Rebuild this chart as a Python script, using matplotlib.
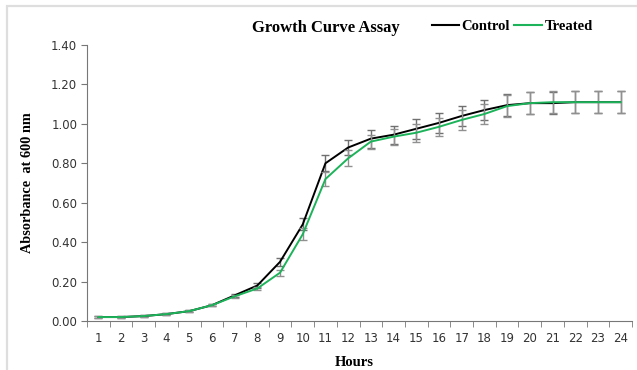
import numpy as np
import matplotlib
matplotlib.use("Agg")
import matplotlib.pyplot as plt
from matplotlib.patches import Rectangle
from matplotlib.lines import Line2D

# Data
hours = list(range(1, 25))
control = [0.02, 0.02, 0.025, 0.035, 0.05, 0.08, 0.13, 0.18, 0.30, 0.49, 0.80, 0.88,
           0.925, 0.945, 0.975, 1.005, 1.04, 1.07, 1.095, 1.105, 1.105, 1.11, 1.11, 1.11]
treated = [0.02, 0.02, 0.025, 0.035, 0.05, 0.08, 0.125, 0.165, 0.245, 0.44, 0.72, 0.825,
           0.91, 0.935, 0.955, 0.985, 1.02, 1.05, 1.09, 1.105, 1.11, 1.11, 1.11, 1.11]
control_err = [0.003, 0.003, 0.004, 0.004, 0.005, 0.006, 0.008, 0.012, 0.02, 0.03, 0.04, 0.04,
               0.045, 0.045, 0.05, 0.05, 0.05, 0.05, 0.055, 0.055, 0.055, 0.055, 0.055, 0.055]
treated_err = [0.003, 0.003, 0.004, 0.004, 0.005, 0.006, 0.008, 0.01, 0.015, 0.03, 0.035, 0.04,
               0.035, 0.04, 0.045, 0.045, 0.05, 0.05, 0.055, 0.055, 0.055, 0.055, 0.055, 0.055]
yticks = [0.0, 0.2, 0.4, 0.6, 0.8, 1.0, 1.2, 1.4]

serif = "Liberation Serif"
green = "#1db35a"

fig = plt.figure(figsize=(6.37, 3.70), dpi=100)
fig.patches.append(Rectangle((7 / 637, -0.05), 1.1, 1.05 - 6 / 370,
                             transform=fig.transFigure, fill=False,
                             edgecolor="#dedede", linewidth=1.6))
ax = fig.add_axes([87 / 637, 49 / 370, 545 / 637, 276 / 370])

x = np.arange(len(hours))
ax.errorbar(x, control, yerr=control_err, color="black", lw=1.4,
            ecolor="#707070", elinewidth=1, capsize=3, capthick=1, zorder=3)
ax.errorbar(x, treated, yerr=treated_err, color=green, lw=1.4,
            ecolor="#909090", elinewidth=1, capsize=3, capthick=1, zorder=4)

ax.set_xlim(-0.5, len(hours) - 0.5)
ax.set_ylim(0, 1.4)
ax.set_yticks(yticks)
ax.set_yticklabels(["%.2f" % v for v in yticks])
ax.set_xticks(x)
ax.set_xticklabels([str(h) for h in hours])
ax.set_xticks(np.arange(-0.5, len(hours)), minor=True)
ax.tick_params(axis="x", which="major", length=0, pad=8, labelsize=8.5, labelcolor="#333333")
ax.tick_params(axis="x", which="minor", length=4, color="#777777")
ax.tick_params(axis="y", length=4, color="#777777", labelsize=8.5, labelcolor="#333333", pad=3)

for s in ["top", "right"]:
    ax.spines[s].set_visible(False)
for s in ["left", "bottom"]:
    ax.spines[s].set_color("#777777")

ax.set_ylabel("Absorbance  at 600 nm", fontfamily=serif, fontweight="bold", fontsize=10.3)
ax.yaxis.set_label_coords(-0.098, 0.5)
ax.set_xlabel("Hours", fontfamily=serif, fontweight="bold", fontsize=10.5)
ax.xaxis.set_label_coords(0.49, -0.125)

fig.text(0.512, 0.923, "Growth Curve Assay", ha="center", va="center",
         fontfamily=serif, fontweight="bold", fontsize=12)
handles = [Line2D([], [], color="black", lw=1.5), Line2D([], [], color=green, lw=1.5)]
ax.legend(handles, ["Control", "Treated"], loc="center left",
          bbox_to_anchor=(0.657, 0.928), bbox_transform=fig.transFigure,
          ncol=2, frameon=False, handlelength=1.9, handletextpad=0.15, columnspacing=0.3,
          prop={"family": serif, "weight": "bold", "size": 10.5})

fig.savefig("out.png", dpi=100)
